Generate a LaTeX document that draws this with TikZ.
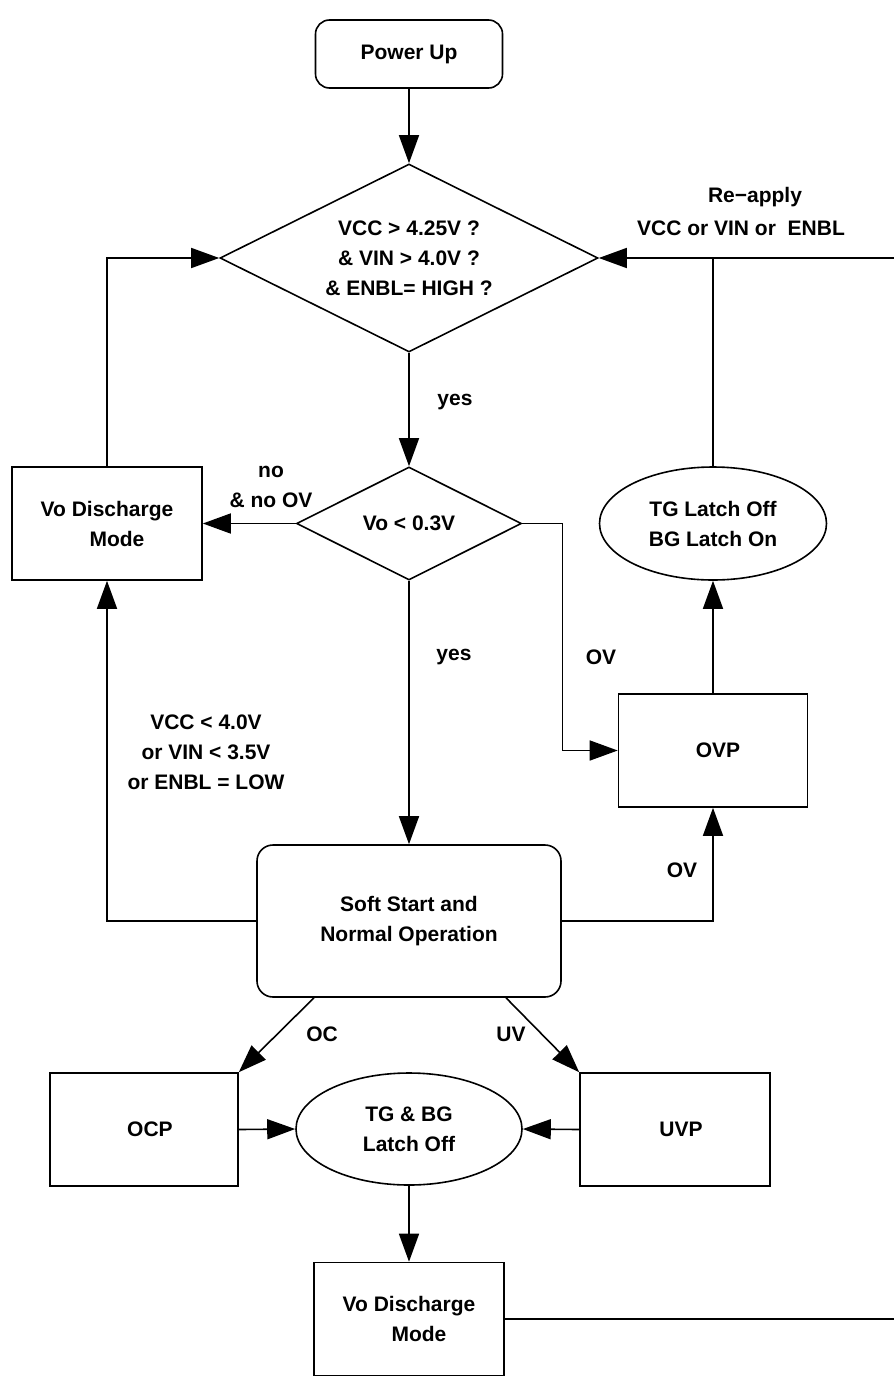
\documentclass[tikz,border=0pt]{standalone}
\usepackage{fontspec}
\setmainfont{Liberation Sans}
\usetikzlibrary{arrows.meta,shapes.geometric,calc}
\begin{document}
\begin{tikzpicture}[x=1pt,y=-1pt,line width=1.6pt,
  every node/.style={font=\bfseries\fontsize{21}{30}\selectfont,align=center,inner sep=0pt},
  arr/.style={-{Triangle[length=28pt,width=20pt]}},
  sqbox/.style={draw,rectangle,minimum width=190pt,minimum height=113pt},
  rbox/.style={draw,rectangle,rounded corners=#1},
  dia/.style={draw,diamond,aspect=2},
  ell/.style={draw,ellipse}]
\useasboundingbox (0,0) rectangle (894,1376);

\node[rbox=14pt,minimum width=187pt,minimum height=68pt] (pu) at (409,54) {Power Up};
\node[dia,minimum width=378pt,minimum height=188pt] (d1) at (409,258) {VCC > 4.25V ?\\ \& VIN > 4.0V ?\\ \& ENBL= HIGH ?};
\node[dia,minimum width=225pt,minimum height=113pt] (d2) at (409,523.5) {Vo < 0.3V};
\node[sqbox] (vd1) at (107,523.5) {Vo Discharge\\\hspace*{20pt}Mode};
\node[ell,minimum width=227pt,minimum height=113pt] (e1) at (713,523.5) {TG Latch Off\\BG Latch On};
\node[sqbox,minimum width=189pt] (ovp) at (713,750.5) {\hspace*{10pt}OVP};
\node[rbox=16pt,minimum width=304pt,minimum height=152pt] (ss) at (409,921) {Soft Start and\\Normal Operation};
\node[sqbox,minimum width=188pt] (ocp) at (144,1129.5) {\hspace*{12pt}OCP};
\node[sqbox] (uvp) at (675,1129.5) {\hspace*{12pt}UVP};
\node[ell,minimum width=226pt,minimum height=112pt] (e2) at (409,1129) {TG \& BG\\Latch Off};
\node[sqbox] (vd2) at (409,1319) {Vo Discharge\\\hspace*{20pt}Mode};

\coordinate (rt) at (898,258);

% labels
\node (lyes1) at (455,402) {yes};
\node (lno) at (271,487) {no\\\& no OV};
\node (lyes2) at (454,657) {yes};
\node (lov1) at (601,657) {OV};
\node (lov2) at (682,870) {OV};
\node (lcond) at (206,752) {VCC < 4.0V\\or VIN < 3.5V\\or ENBL = LOW};
\node (lre1) at (755,197) {Re−apply};
\node (lre2) at (741,228) {VCC or VIN or\ \ ENBL};
\node (loc) at (322,1034) {OC};
\node (luv) at (511,1034) {UV};

% connectors
\draw[arr] (pu) -- (d1.north);
\draw[arr] (d1.south) -- (d2.north);
\draw[arr] (d2.west) -- (vd1.east);
\draw[arr] (vd1.north) |- (d1.west);
\draw[arr] (d2.east) -- ($(d2.east)+(40,0)$) |- (ovp.west);
\draw[arr] (ovp.north) -- (e1.south);
\draw (e1.north) -- (e1.north |- d1.east);
\draw[arr] (vd2.east) -| (rt) -- (d1.east);
\draw[arr] (d2.south) -- (ss.north);
\draw[arr] (ss.west) -| (vd1.south);
\draw[arr] (ss.east) -| (ovp.south);
\draw[arr] ($(ss.south)+(-95,0)$) -- (ocp.north east);
\draw[arr] ($(ss.south)+(97,0)$) -- (uvp.north west);
\draw[arr] (ocp.east) -- (e2.west);
\draw[arr] (uvp.west) -- (e2.east);
\draw[arr] (e2.south) -- (vd2.north);
\end{tikzpicture}
\end{document}
